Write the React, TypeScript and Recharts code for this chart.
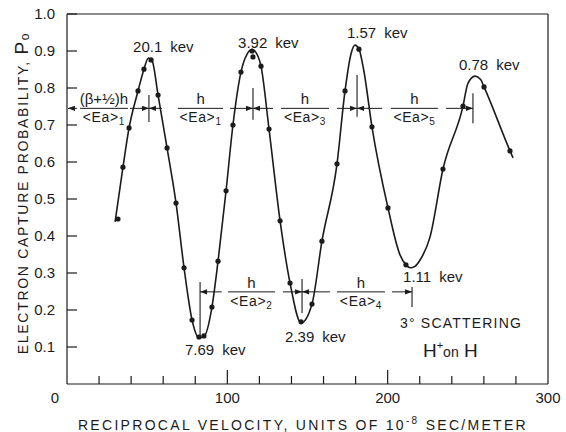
import React from "react";
import {
  ComposedChart,
  Line,
  Scatter,
  XAxis,
  YAxis,
  ReferenceLine,
  Label,
} from "recharts";

// measured points (reciprocal velocity, capture probability)
const measured = [
  { x: 31.8, y: 0.446 }, { x: 34.9, y: 0.586 }, { x: 38.7, y: 0.692 },
  { x: 44.3, y: 0.792 }, { x: 48.0, y: 0.851 }, { x: 52.4, y: 0.876 },
  { x: 56.8, y: 0.781 }, { x: 62.4, y: 0.638 }, { x: 68.0, y: 0.489 },
  { x: 73.0, y: 0.314 }, { x: 78.0, y: 0.173 }, { x: 82.3, y: 0.127 },
  { x: 85.4, y: 0.130 }, { x: 90.4, y: 0.208 }, { x: 94.2, y: 0.332 },
  { x: 99.2, y: 0.522 }, { x: 103.5, y: 0.700 }, { x: 108.5, y: 0.843 },
  { x: 115.4, y: 0.900 }, { x: 116.0, y: 0.884 }, { x: 121.0, y: 0.859 },
  { x: 126.0, y: 0.689 }, { x: 132.9, y: 0.441 }, { x: 139.1, y: 0.273 },
  { x: 146.0, y: 0.168 }, { x: 152.8, y: 0.216 }, { x: 159.0, y: 0.386 },
  { x: 168.4, y: 0.595 }, { x: 173.4, y: 0.792 }, { x: 182.1, y: 0.905 },
  { x: 190.2, y: 0.695 }, { x: 200.2, y: 0.476 }, { x: 211.4, y: 0.322 },
  { x: 234.5, y: 0.581 }, { x: 247.0, y: 0.751 }, { x: 260.1, y: 0.803 },
  { x: 276.3, y: 0.630 },
];

// hand-drawn fitted curve
const curve = [
  { x: 30.0, y: 0.438 }, { x: 34.9, y: 0.586 }, { x: 38.7, y: 0.692 },
  { x: 44.3, y: 0.792 }, { x: 48.0, y: 0.851 }, { x: 50.8, y: 0.881 },
  { x: 53.0, y: 0.875 }, { x: 56.8, y: 0.781 }, { x: 62.4, y: 0.638 },
  { x: 68.0, y: 0.489 }, { x: 73.0, y: 0.314 }, { x: 78.0, y: 0.173 },
  { x: 82.3, y: 0.125 }, { x: 85.4, y: 0.128 }, { x: 90.4, y: 0.208 },
  { x: 94.2, y: 0.332 }, { x: 99.2, y: 0.522 }, { x: 103.5, y: 0.700 },
  { x: 108.5, y: 0.843 }, { x: 112.5, y: 0.893 }, { x: 115.4, y: 0.904 },
  { x: 118.0, y: 0.895 }, { x: 121.0, y: 0.859 }, { x: 126.0, y: 0.689 },
  { x: 132.9, y: 0.441 }, { x: 139.1, y: 0.273 }, { x: 146.0, y: 0.165 },
  { x: 152.8, y: 0.216 }, { x: 159.0, y: 0.386 }, { x: 168.4, y: 0.595 },
  { x: 173.4, y: 0.792 }, { x: 177.0, y: 0.890 }, { x: 179.6, y: 0.916 },
  { x: 182.1, y: 0.905 }, { x: 185.0, y: 0.850 }, { x: 190.2, y: 0.695 },
  { x: 200.2, y: 0.476 }, { x: 207.7, y: 0.349 }, { x: 211.4, y: 0.322 },
  { x: 214.0, y: 0.314 }, { x: 217.0, y: 0.318 }, { x: 220.2, y: 0.335 },
  { x: 226.4, y: 0.397 }, { x: 234.5, y: 0.581 }, { x: 247.0, y: 0.751 },
  { x: 250.0, y: 0.812 }, { x: 254.5, y: 0.832 }, { x: 258.0, y: 0.823 },
  { x: 260.1, y: 0.803 }, { x: 276.3, y: 0.630 }, { x: 278.2, y: 0.611 },
];

const xTicks = [0, 20, 40, 60, 80, 100, 120, 140, 160, 180, 200, 220, 240, 260, 280, 300];
const xLabelled = [0, 100, 200, 300];
const yTicks = [0.1, 0.2, 0.3, 0.4, 0.5, 0.6, 0.7, 0.8, 0.9, 1.0];

const peakLabels = [
  { x: 41.2, y: 0.897, value: "20.1" },
  { x: 106.7, y: 0.908, value: "3.92" },
  { x: 174.6, y: 0.935, value: "1.57" },
  { x: 244.5, y: 0.849, value: "0.78" },
  { x: 73.6, y: 0.078, value: "7.69" },
  { x: 136.0, y: 0.114, value: "2.39" },
  { x: 209.6, y: 0.276, value: "1.11" },
];

// h / <Ea>n fractions sitting on the two level lines
const fractions = [
  { x: 23.0, y: 0.745, num: "(β+½)h", sub: "1" },
  { x: 83.3, y: 0.745, num: "h", sub: "1" },
  { x: 148.4, y: 0.745, num: "h", sub: "3" },
  { x: 216.7, y: 0.745, num: "h", sub: "5" },
  { x: 115.0, y: 0.249, num: "h", sub: "2" },
  { x: 183.3, y: 0.249, num: "h", sub: "4" },
];

const levelSegments = [
  [0.6, 6.2, 0.745], [8.1, 38.0, 0.745], [39.3, 51.1, 0.745], [51.1, 59.2, 0.745],
  [69.2, 97.3, 0.745], [101.7, 116.0, 0.745], [116.0, 128.5, 0.745],
  [133.5, 163.4, 0.745], [168.4, 180.9, 0.745], [180.9, 196.5, 0.745],
  [202.0, 231.3, 0.745], [236.4, 253.2, 0.745],
  [83.0, 96.5, 0.249], [100.4, 129.7, 0.249], [134.7, 146.6, 0.249],
  [146.6, 164.0, 0.249], [168.4, 198.3, 0.249], [202.7, 215.2, 0.249],
];

const arrowHeads = [
  { x: 0.6, y: 0.745, dir: -1 }, { x: 51.1, y: 0.745, dir: 1 }, { x: 51.1, y: 0.745, dir: -1 },
  { x: 116.0, y: 0.745, dir: 1 }, { x: 116.0, y: 0.745, dir: -1 },
  { x: 180.9, y: 0.745, dir: 1 }, { x: 180.9, y: 0.745, dir: -1 },
  { x: 253.2, y: 0.745, dir: 1 },
  { x: 83.0, y: 0.249, dir: -1 }, { x: 146.6, y: 0.249, dir: 1 }, { x: 146.6, y: 0.249, dir: -1 },
  { x: 215.2, y: 0.249, dir: 1 },
];

const markers = [
  { x: 51.1, y1: 0.708, y2: 0.781 },
  { x: 116.0, y1: 0.714, y2: 0.8 },
  { x: 180.9, y1: 0.722, y2: 0.835 },
  { x: 253.2, y1: 0.705, y2: 0.786 },
  { x: 83.0, y1: 0.127, y2: 0.276 },
  { x: 146.6, y1: 0.192, y2: 0.284 },
  { x: 215.2, y1: 0.208, y2: 0.262 },
];

const notes = [
  { x: 207.7, y: 0.151, kind: "scatter" },
  { x: 222.0, y: 0.073, kind: "ion" },
];

const ink = "#1b1b1b";
const font = "'Liberation Sans', Arial, sans-serif";

function XTick(props: any) {
  const { x, y, payload } = props;
  const v = payload.value;
  const len = v % 100 === 0 ? 14 : 8;
  return (
    <g>
      {v > 0 && v < 300 && (
        <line x1={x} x2={x} y1={y} y2={y - len} stroke={ink} strokeWidth={1.2} />
      )}
      {xLabelled.includes(v) && (
        <text x={v === 0 ? x - 12 : x} y={y + 19} textAnchor="middle" fontSize={15} fill={ink} fontFamily={font}>
          {v}
        </text>
      )}
    </g>
  );
}

function YTick(props: any) {
  const { x, y, payload } = props;
  return (
    <g>
      <line x1={x} x2={x + 10} y1={y} y2={y} stroke={ink} strokeWidth={1.2} />
      <text x={x - 12} y={y + 5} textAnchor="end" fontSize={15} fill={ink} fontFamily={font}>
        {Number(payload.value).toFixed(1)}
      </text>
    </g>
  );
}

function Dot({ cx, cy }: any) {
  return <circle cx={cx} cy={cy} r={2.6} fill={ink} />;
}

function Arrow({ cx, cy, payload }: any) {
  const d = payload.dir;
  return <path d={`M${cx},${cy} L${cx - d * 7},${cy - 2.6} L${cx - d * 7},${cy + 2.6} Z`} fill={ink} />;
}

function Fraction({ cx, cy, payload }: any) {
  return (
    <g fontFamily={font} fill={ink}>
      <text x={cx} y={cy - 4} textAnchor="middle" fontSize={15}>{payload.num}</text>
      <text x={cx} y={cy + 14} textAnchor="middle" fontSize={14} letterSpacing={0.6}>
        {"<Ea>"}
        <tspan fontSize={10} dy={3}>{payload.sub}</tspan>
      </text>
    </g>
  );
}

function PeakLabel({ cx, cy, payload }: any) {
  return (
    <text x={cx} y={cy} fontSize={15} fill={ink} fontFamily={font}>
      {payload.value}
      <tspan dx={8}>kev</tspan>
    </text>
  );
}

function Note({ cx, cy, payload }: any) {
  if (payload.kind === "scatter") {
    return (
      <text x={cx} y={cy} fontSize={14} fill={ink} fontFamily={font} letterSpacing={1.2}>
        3° SCATTERING
      </text>
    );
  }
  return (
    <text x={cx} y={cy} fontSize={19} fill={ink} fontFamily={font}>
      H<tspan fontSize={11} dy={-8}>+</tspan>
      <tspan fontSize={14} dy={8}>on</tspan> H
    </text>
  );
}

export default function App() {
  return (
    <div style={{ position: "absolute", left: 0, top: 0, background: "#fff" }}>
      <ComposedChart width={566} height={432} margin={{ top: 14, right: 18, left: 0, bottom: 0 }}>
        <XAxis
          type="number"
          dataKey="x"
          domain={[0, 300]}
          ticks={xTicks}
          interval={0}
          height={48}
          tickSize={0}
          tickMargin={0}
          tickLine={false}
          axisLine={{ stroke: ink, strokeWidth: 1.2 }}
          tick={<XTick />}
        >
          <Label
            content={() => (
              <text x={303} y={430} textAnchor="middle" fontSize={14} fill={ink} fontFamily={font} letterSpacing={2.3}>
                RECIPROCAL VELOCITY, UNITS OF 10
                <tspan fontSize={10} dy={-6}>-8</tspan>
                <tspan dy={6}> SEC/METER</tspan>
              </text>
            )}
          />
        </XAxis>
        <YAxis
          type="number"
          dataKey="y"
          domain={[0, 1]}
          ticks={yTicks}
          interval={0}
          width={67}
          tickSize={0}
          tickMargin={0}
          tickLine={false}
          axisLine={{ stroke: ink, strokeWidth: 1.2 }}
          tick={<YTick />}
        >
          <Label
            content={() => (
              <text
                transform="translate(28,193) rotate(-90)"
                textAnchor="middle"
                fontSize={14}
                fill={ink}
                fontFamily={font}
                letterSpacing={1.7}
              >
                ELECTRON CAPTURE PROBABILITY,{" "}
                <tspan fontSize={19}>P</tspan>
                <tspan fontSize={12} dy={1}>o</tspan>
              </text>
            )}
          />
        </YAxis>

        <ReferenceLine y={1} stroke={ink} strokeWidth={1.2} />
        <ReferenceLine x={300} stroke={ink} strokeWidth={1.2} />

        {levelSegments.map(([a, b, y], i) => (
          <ReferenceLine key={`s${i}`} segment={[{ x: a, y }, { x: b, y }]} stroke={ink} strokeWidth={1} />
        ))}
        {markers.map((m, i) => (
          <ReferenceLine key={`m${i}`} segment={[{ x: m.x, y: m.y1 }, { x: m.x, y: m.y2 }]} stroke={ink} strokeWidth={1.1} />
        ))}

        <Line
          data={curve}
          dataKey="y"
          type="monotone"
          stroke={ink}
          strokeWidth={1.6}
          dot={false}
          activeDot={false}
          isAnimationActive={false}
        />
        <Scatter data={measured} dataKey="y" shape={<Dot />} isAnimationActive={false} />
        <Scatter data={arrowHeads} dataKey="y" shape={<Arrow />} isAnimationActive={false} />
        <Scatter data={fractions} dataKey="y" shape={<Fraction />} isAnimationActive={false} />
        <Scatter data={peakLabels} dataKey="y" shape={<PeakLabel />} isAnimationActive={false} />
        <Scatter data={notes} dataKey="y" shape={<Note />} isAnimationActive={false} />
      </ComposedChart>
    </div>
  );
}
